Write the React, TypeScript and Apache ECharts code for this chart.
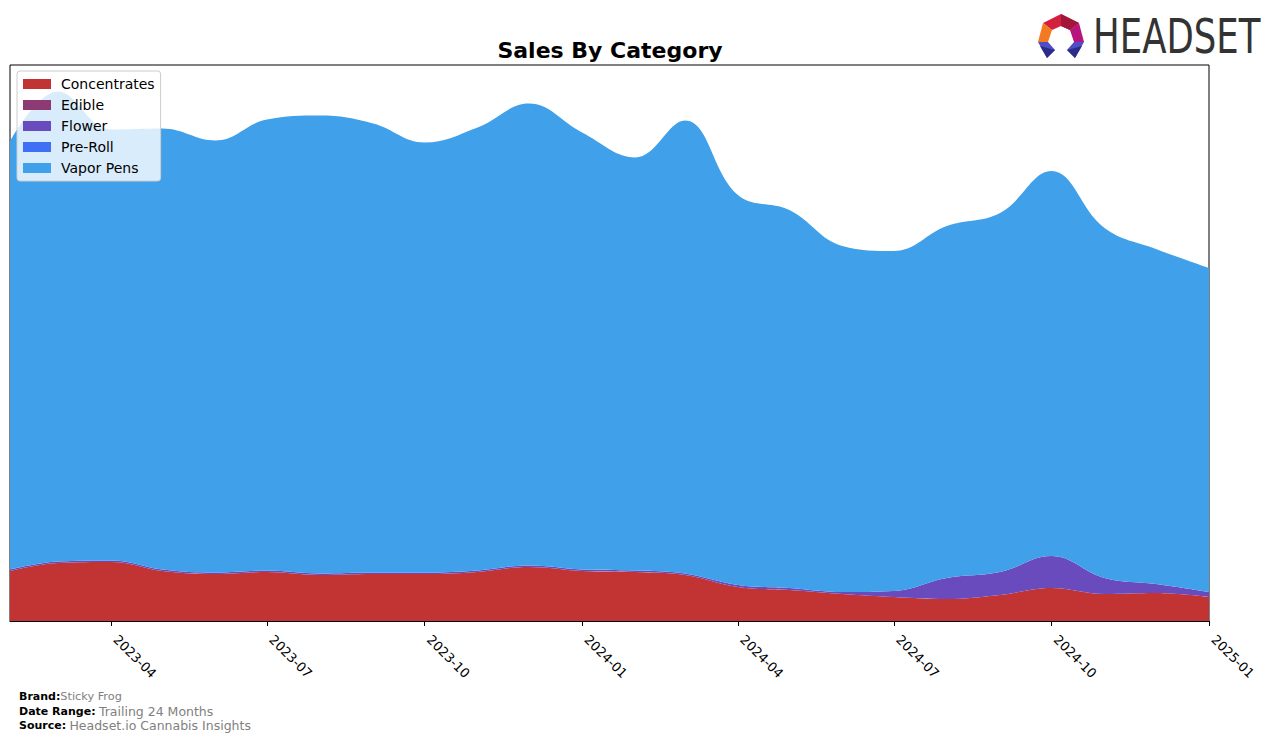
import React, { useEffect, useRef } from "react";
import * as echarts from "echarts";

const months = [
  "2023-02", "2023-03", "2023-04", "2023-05", "2023-06", "2023-07", "2023-08", "2023-09",
  "2023-10", "2023-11", "2023-12", "2024-01", "2024-02", "2024-03", "2024-04", "2024-05",
  "2024-06", "2024-07", "2024-08", "2024-09", "2024-10", "2024-11", "2024-12", "2025-01",
];
const concentrates = [50, 58, 59, 50, 47, 49, 46, 47, 47, 49, 54, 50, 49, 46, 34, 31, 27, 24, 22, 26, 33, 27, 28, 24];
const edible = [0, 0, 0, 0, 0, 0, 0, 0, 0, 0, 0, 0, 0, 0, 0, 0, 0, 0, 0, 0, 0, 0, 0, 0];
const flower = [1.5, 1.5, 1.5, 1.5, 1.5, 1.5, 1.5, 1.5, 1.5, 1.5, 1.5, 1.5, 1.5, 1.5, 2, 2, 2, 6, 21, 23, 32, 16, 9, 5];
const preRoll = [0, 0, 0, 0, 0, 0, 0, 0, 0, 0, 0, 0, 0, 0, 0, 0, 0, 0, 0, 0, 0, 0, 0, 0];
const vaporPens = [428, 470, 431, 441, 432, 451, 458, 449, 430, 443, 462, 437, 413, 453, 390, 378, 346, 340, 352, 359, 385, 350, 335, 324];
const tickLabels = ["2023-04", "2023-07", "2023-10", "2024-01", "2024-04", "2024-07", "2024-10", "2025-01"];

const seriesNames = ["Concentrates", "Edible", "Flower", "Pre-Roll", "Vapor Pens"];
const seriesData = [concentrates, edible, flower, preRoll, vaporPens];
const colors = ["#C13433", "#8E3A72", "#6A4BBE", "#3F6FF5", "#40A0E9"];

const toTs = (s: string) => {
  const [y, m] = s.split("-").map(Number);
  return Date.UTC(y, m - 1, 1);
};
const fmt = (v: number) => {
  const d = new Date(v);
  const m = d.getUTCMonth() + 1;
  return `${d.getUTCFullYear()}-${m < 10 ? "0" + m : m}`;
};

export default function App() {
  const ref = useRef<HTMLDivElement>(null);
  useEffect(() => {
    if (!ref.current) return;
    const chart = echarts.init(ref.current, undefined, { renderer: "svg" });
    const font = "DejaVu Sans";
    const tickTs = tickLabels.map(toTs);
    const xMin = toTs(months[0]);
    const xMax = toTs(months[months.length - 1]);
    chart.setOption({
      animation: false,
      color: colors,
      title: {
        text: "Sales By Category",
        left: 605,
        textAlign: "center",
        top: 34,
        textStyle: { fontFamily: font, fontWeight: "bold", fontSize: 22, color: "#000" },
      },
      legend: {
        orient: "vertical",
        left: 17,
        top: 71,
        padding: [6, 6, 6, 6],
        itemWidth: 28,
        itemHeight: 10,
        itemGap: 7,
        icon: "rect",
        backgroundColor: "rgba(255,255,255,0.8)",
        borderColor: "#cccccc",
        borderWidth: 1,
        borderRadius: 3,
        textStyle: { fontFamily: font, fontSize: 14, color: "#000", lineHeight: 14, padding: [0, 0, 0, 5] },
        data: seriesNames,
      },
      grid: {
        left: 10,
        right: 67,
        top: 65,
        bottom: 120,
        show: true,
        borderColor: "#000",
        borderWidth: 1,
        backgroundColor: "transparent",
      },
      xAxis: [
        {
          type: "time",
          min: xMin,
          max: xMax,
          show: false,
        },
        {
          type: "value",
          position: "bottom",
          min: xMin,
          max: xMax,
          splitLine: { show: false },
          axisLine: { show: true, lineStyle: { color: "#000" } },
          axisTick: {
            show: true,
            length: 5,
            lineStyle: { color: "#000" },
            customValues: tickTs,
          },
          axisLabel: {
            customValues: tickTs,
            formatter: (v: number) => fmt(v),
            rotate: -45,
            align: "left",
            verticalAlign: "bottom",
            fontFamily: font,
            fontSize: 13,
            color: "#000",
            margin: 21,
            hideOverlap: false,
            showMinLabel: true,
            showMaxLabel: true,
          },
        },
      ],
      yAxis: {
        type: "value",
        min: 0,
        max: 556,
        show: false,
        splitLine: { show: false },
      },
      series: seriesNames.map((name, i) => ({
        name,
        type: "line",
        xAxisIndex: 0,
        stack: "total",
        smooth: 0.4,
        symbol: "none",
        lineStyle: { width: 0 },
        areaStyle: { color: colors[i], opacity: 1 },
        itemStyle: { color: colors[i] },
        data: months.map((m, j) => [toTs(m), seriesData[i][j]]),
      })),
      graphic: [
        {
          type: "text",
          left: 19,
          top: 691,
          style: {
            text: "{b|Brand:}{v|Sticky Frog}\n{b|Date Range:} {w|Trailing 24 Months}\n{b|Source:} {w|Headset.io Cannabis Insights}",
            rich: {
              b: { fontFamily: font, fontWeight: "bold", fontSize: 11, fill: "#000", lineHeight: 14.5 },
              v: { fontFamily: font, fontSize: 11.3, fill: "#808080", lineHeight: 14.5 },
              w: { fontFamily: font, fontSize: 12.5, fill: "#808080", lineHeight: 14.5 },
            },
          },
        },
        {
          type: "group",
          children: [
            { type: "polygon", shape: { points: [[1043, 23], [1061, 14], [1079, 23], [1070, 30], [1061, 26], [1052, 30]] }, style: { fill: "#D3203F" } },
            { type: "polygon", shape: { points: [[1061, 14], [1079, 23], [1070, 30], [1061, 26]] }, style: { fill: "#A3163A" } },
            { type: "polygon", shape: { points: [[1079, 23], [1084, 42], [1074, 42], [1070, 30]] }, style: { fill: "#B8157C" } },
            { type: "polygon", shape: { points: [[1043, 23], [1052, 30], [1048, 42], [1038, 42]] }, style: { fill: "#F47A21" } },
            { type: "polygon", shape: { points: [[1038, 42], [1048, 42], [1055, 50], [1047, 58]] }, style: { fill: "#4E4FC6" } },
            { type: "polygon", shape: { points: [[1040, 46], [1055, 50], [1047, 58]] }, style: { fill: "#2B2C8A" } },
            { type: "polygon", shape: { points: [[1084, 42], [1074, 42], [1067, 50], [1075, 58]] }, style: { fill: "#4E4FC6" } },
            { type: "polygon", shape: { points: [[1082, 46], [1067, 50], [1075, 58]] }, style: { fill: "#2B2C8A" } },
          ],
        },
        {
          type: "text",
          x: 1093,
          y: 13,
          scaleX: 0.74,
          style: {
            text: "HEADSET",
            fontFamily: "DejaVu Sans",
            fontSize: 48,
            fill: "#333333",
          },
        },
      ],
    });
    return () => chart.dispose();
  }, []);
  return <div ref={ref} style={{ position: "absolute", left: 0, top: 0, width: 1276, height: 741 }} />;
}
